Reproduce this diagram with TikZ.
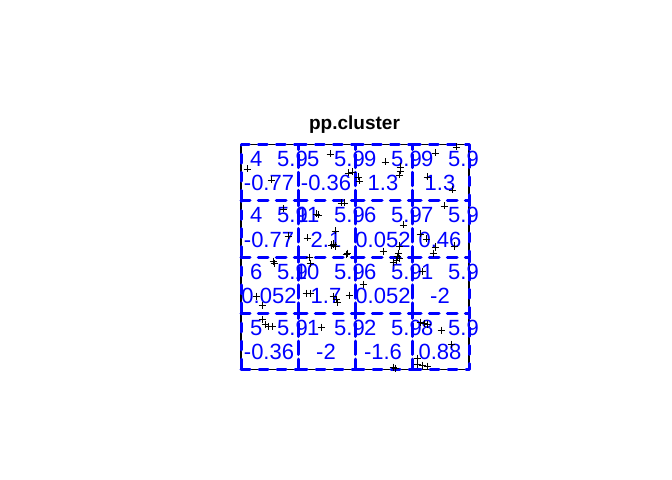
\documentclass[tikz,border=0pt]{standalone}
\usepackage{fontspec}
\setmainfont{Liberation Sans}
\definecolor{qblue}{RGB}{0,0,255}
\tikzset{
  quad/.style={draw=qblue, line width=3bp, dash pattern=on 9bp off 9bp, line cap=round, line join=round},
  win/.style={draw=black, line width=1.2bp},
  lbl/.style={inner sep=0pt, text=qblue, font=\fontsize{22bp}{24bp}\selectfont},
  obs/.style={lbl, anchor=base east},
  expd/.style={lbl, anchor=base west},
  resid/.style={lbl, anchor=base},
  ttl/.style={anchor=base, inner sep=0pt, font=\fontsize{19bp}{21bp}\selectfont\bfseries},
  ptmark/.style={draw=black, line width=0.9bp}
}
\begin{document}
\begin{tikzpicture}[x=1bp,y=-1bp]
\useasboundingbox (0,0) rectangle (672,480);
% title
\node[ttl] (title) at (354.5,130) {pp.cluster};
% window
\draw[win] (241,144.5) rectangle (469,369.5);
% quadrats (each tile drawn as its own polygon)
\foreach \L/\R in {241/298,298/355,355/412,412/469}{
  \foreach \T/\B in {144.5/200.75,200.75/257,257/313.25,313.25/369.5}{
    \draw[quad] (\L,\B) -- (\R,\B) -- (\R,\T) -- (\L,\T) -- cycle;
  }
}
% labels: column index, row index, observed, residual
\foreach \i/\j/\o/\r in {
  0/0/4/-0.77, 1/0/5/-0.36, 2/0/9/1.3, 3/0/9/1.3,
  0/1/4/-0.77, 1/1/11/2.1, 2/1/6/0.052, 3/1/7/0.46,
  0/2/6/0.052, 1/2/10/1.7, 2/2/6/0.052, 3/2/1/-2,
  0/3/5/-0.36, 1/3/1/-2, 2/3/2/-1.6, 3/3/8/0.88}{
  \pgfmathsetmacro{\L}{241+57*\i}
  \pgfmathsetmacro{\T}{144.5+56.25*\j}
  \node[obs] (o\i\j) at (\L+21.5,\T+22) {\o};
  \node[expd] (e\i\j) at (\L+36,\T+22) {5.9};
  \node[resid] (r\i\j) at (\L+28,\T+46.5) {\r};
}
% points
\foreach \x/\y in {
  247/169, 271/180, 330/154, 348/173, 352/172, 358/177, 359/181,
  385/162, 400/167, 400/171, 399/175, 435/153, 456/147, 427/177, 452/190,
  341/203, 344/203, 283/209, 316/214, 318/215, 335/231, 307/238,
  331/245, 333/244, 335/246, 288/236, 347/253, 444/206, 403/225,
  420/234, 426/239, 435/247, 433/253, 454/246, 383/251, 399/246,
  398/253, 346/254,
  309/257, 310/263, 273/261, 274/263, 397/256, 399/258, 396/260, 393/262,
  306/293, 310/293, 333/296, 336/299, 337/302, 349/295, 256/296,
  262/305, 363/284, 422/271,
  262/319, 265/324, 268/326, 272/326, 321/327, 420/322, 424/323,
  427/324, 441/330, 451/344, 417/358, 417/364, 422/365, 427/366,
  393/367, 395/368}{
  \draw[ptmark] (\x-3.5,\y) -- (\x+3.5,\y) (\x,\y-3.5) -- (\x,\y+3.5);
}
\end{tikzpicture}
\end{document}
